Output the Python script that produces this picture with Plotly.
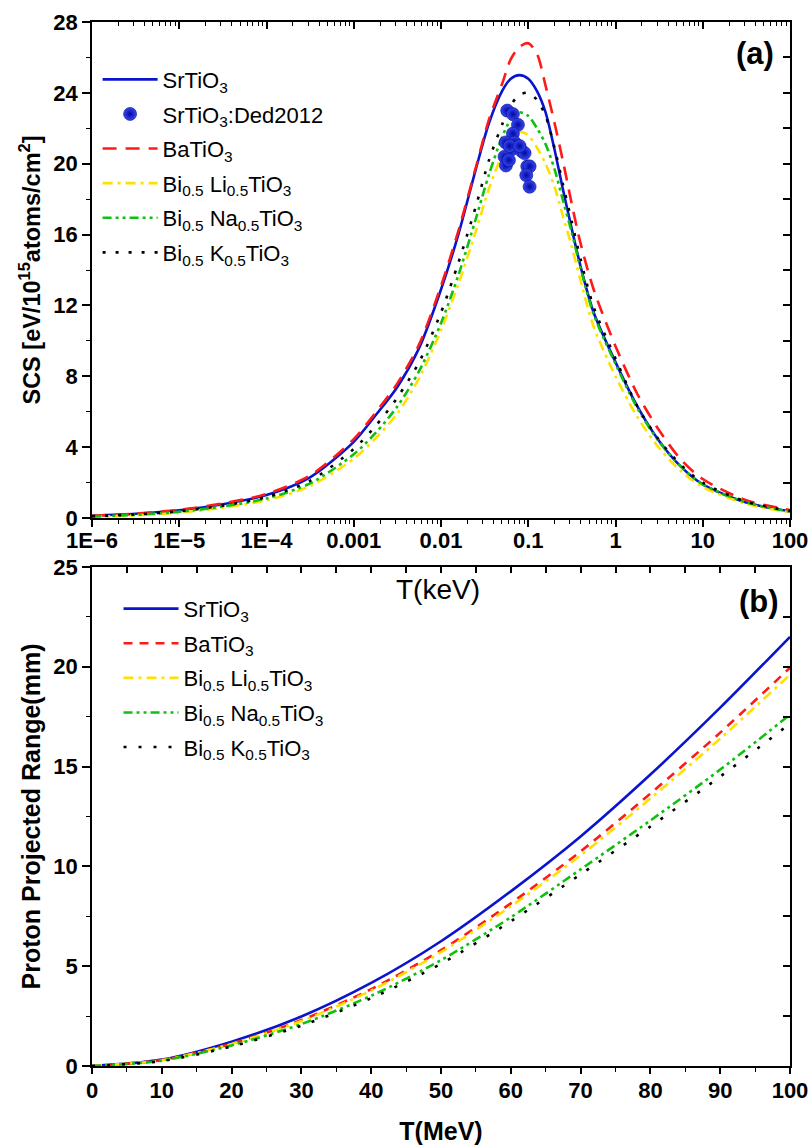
import plotly.graph_objects as go

# ---------------- Panel (a) data : stopping cross section vs T(keV) ----------------
T_keV = [1e-6, 3.16e-6, 1e-5, 3.16e-5, 1e-4, 3.16e-4, 1e-3, 1.78e-3, 3.16e-3, 5.62e-3,
         1e-2, 1.58e-2, 2.51e-2, 3.55e-2, 5.01e-2, 6.31e-2, 7.94e-2, 0.1, 0.126, 0.158,
         0.2, 0.251, 0.316, 0.398, 0.562, 1.0, 1.78, 3.16, 5.62, 10, 31.6, 100]
scs_SrTiO3 = [0.13, 0.24, 0.44, 0.78, 1.30, 2.3, 4.3, 5.8, 7.4, 9.6,
              12.9, 16.0, 19.7, 22.3, 24.1, 24.8, 25.0, 24.8, 24.1, 22.9,
              20.8, 18.5, 16.3, 14.2, 11.6, 8.8, 6.3, 4.35, 2.9, 1.9, 0.87, 0.38]
scs_BaTiO3 = [0.13, 0.25, 0.46, 0.82, 1.36, 2.4, 4.45, 5.95, 7.6, 9.8,
              13.1, 16.2, 19.8, 22.5, 24.5, 25.9, 26.6, 26.8, 26.2, 24.4,
              22.3, 20.1, 17.7, 15.5, 12.9, 9.7, 7.0, 4.95, 3.3, 2.2, 1.0, 0.45]
scs_BLT = [0.07, 0.15, 0.30, 0.58, 1.0, 1.8, 3.35, 4.5, 5.9, 7.9,
           10.6, 13.2, 16.2, 18.6, 20.5, 21.4, 21.8, 21.6, 20.9, 20.0,
           18.7, 17.0, 15.3, 13.4, 10.8, 8.0, 5.7, 3.95, 2.65, 1.75, 0.8, 0.32]
scs_BNT = [0.09, 0.18, 0.35, 0.65, 1.10, 1.95, 3.6, 4.8, 6.3, 8.3,
           11.0, 13.7, 16.9, 19.4, 21.5, 22.5, 22.9, 22.7, 22.0, 21.1,
           19.7, 17.9, 16.1, 14.1, 11.5, 8.7, 6.2, 4.3, 2.9, 1.9, 0.88, 0.36]
scs_BKT = [0.10, 0.20, 0.38, 0.70, 1.18, 2.1, 3.9, 5.2, 6.8, 8.8,
           11.6, 14.4, 17.6, 20.2, 22.2, 23.3, 23.9, 24.0, 23.6, 22.7,
           20.9, 18.8, 16.7, 14.6, 11.9, 9.0, 6.3, 4.4, 3.0, 2.0, 0.92, 0.40]

# experimental points (Ded2012)
exp_T = [0.0574, 0.0667, 0.0762, 0.0667, 0.0550, 0.0696, 0.0638, 0.0847, 0.0908,
         0.0535, 0.0555, 0.0975, 0.1036, 0.0949, 0.1036, 0.0610, 0.0795, 0.0600]
exp_scs = [23.0, 22.8, 22.2, 21.7, 21.2, 21.2, 20.8, 20.7, 20.6,
           20.4, 19.9, 19.85, 19.85, 19.35, 18.7, 21.0, 21.0, 20.2]

a_tickvals = [1e-6, 1e-5, 1e-4, 1e-3, 1e-2, 1e-1, 1, 10, 100]
a_ticktext = ["1E\u22126", "1E\u22125", "1E\u22124", "0.001", "0.01", "0.1", "1", "10", "100"]

# ---------------- Panel (b) data : projected range vs T(MeV) ----------------
E_MeV = [0, 10, 20, 30, 40, 50, 60, 70, 80, 90, 100]
rng_SrTiO3 = [0, 0.32, 1.22, 2.48, 4.16, 6.25, 8.75, 11.5, 14.6, 17.95, 21.5]
rng_BaTiO3 = [0, 0.30, 1.12, 2.30, 3.85, 5.80, 8.15, 10.75, 13.65, 16.7, 19.95]
rng_BLT = [0, 0.29, 1.10, 2.25, 3.78, 5.70, 8.00, 10.55, 13.4, 16.4, 19.6]
rng_BNT = [0, 0.27, 1.03, 2.10, 3.52, 5.30, 7.45, 9.85, 12.3, 14.85, 17.6]
rng_BKT = [0, 0.25, 0.98, 2.02, 3.40, 5.12, 7.25, 9.60, 12.0, 14.5, 17.15]

names = ["SrTiO<sub>3</sub>", "BaTiO<sub>3</sub>", "Bi<sub>0.5</sub> Li<sub>0.5</sub>TiO<sub>3</sub>",
         "Bi<sub>0.5</sub> Na<sub>0.5</sub>TiO<sub>3</sub>", "Bi<sub>0.5</sub> K<sub>0.5</sub>TiO<sub>3</sub>"]
exp_name = "SrTiO<sub>3</sub>:Ded2012"

FONT = "Liberation Sans, Arial, sans-serif"
BLUE = "#0A14CC"
RED = "#FF1A1A"
YELLOW = "#FFE000"
GREEN = "#10C010"
BLACK = "#000000"
colors = [BLUE, RED, YELLOW, GREEN, BLACK]
dash_a = ["solid", "14px,9px", "10px,5px,3px,5px", "9px,4px,3px,4px,3px,4px", "3px,10px"]
dash_b = ["solid", "9px,7px", "10px,5px,3px,5px", "9px,4px,3px,4px,3px,4px", "3px,12px"]

fig = go.Figure()

series_a = [scs_SrTiO3, scs_BaTiO3, scs_BLT, scs_BNT, scs_BKT]
ranks_a = [1, 3, 4, 5, 6]
for i, ys in enumerate(series_a):
    fig.add_trace(go.Scatter(
        x=T_keV, y=ys, mode="lines", name=names[i],
        line=dict(color=colors[i], width=2.6, dash=dash_a[i], shape="spline", smoothing=0.8),
        xaxis="x", yaxis="y", legend="legend", legendrank=ranks_a[i], legendgroup=f"a{i}"))

fig.add_trace(go.Scatter(
    x=exp_T, y=exp_scs, mode="markers", name=exp_name,
    marker=dict(size=13, color="#3848F0", gradient=dict(type="radial", color="#0008A0"),
                line=dict(width=0.6, color="#000890")),
    xaxis="x", yaxis="y", legend="legend", legendrank=2, legendgroup="aexp"))

series_b = [rng_SrTiO3, rng_BaTiO3, rng_BLT, rng_BNT, rng_BKT]
for i, ys in enumerate(series_b):
    fig.add_trace(go.Scatter(
        x=E_MeV, y=ys, mode="lines", name=names[i],
        line=dict(color=colors[i], width=2.6, dash=dash_b[i], shape="spline", smoothing=0.8),
        xaxis="x2", yaxis="y2", legend="legend2", legendrank=i + 1, legendgroup=f"b{i}"))

# dummy traces to activate mirror axes (top/right with inward ticks)
fig.add_trace(go.Scatter(x=[None], y=[None], xaxis="x3", yaxis="y3", showlegend=False, hoverinfo="skip"))
fig.add_trace(go.Scatter(x=[None], y=[None], xaxis="x4", yaxis="y4", showlegend=False, hoverinfo="skip"))

tickfont = dict(family=FONT, size=22, color="black", weight="bold")
common = dict(showgrid=False, zeroline=False, showline=True, linecolor="black", linewidth=1.6,
              tickcolor="black", tickwidth=1.5, automargin=False)

minor_log = [k * 10.0 ** e for e in range(-6, 2) for k in range(2, 10)]

dom_a = [0.5249, 1.0]
dom_b = [0.0, 0.478]

fig.update_layout(
    width=811, height=1148,
    margin=dict(l=92, r=21, t=22, b=82, autoexpand=False),
    plot_bgcolor="white", paper_bgcolor="white",
    font=dict(family=FONT, color="black"),
    xaxis=dict(**common, domain=[0, 1], anchor="y", type="log", range=[-6, 2],
               tickmode="array", tickvals=a_tickvals, ticktext=a_ticktext,
               ticks="outside", ticklen=7, tickfont=tickfont, ticklabelstandoff=-5,
               minor=dict(tickmode="array", tickvals=minor_log, ticks="outside", ticklen=4,
                          tickcolor="black", tickwidth=1.2)),
    yaxis=dict(**common, domain=dom_a, anchor="x", range=[0, 28], dtick=4, tick0=0,
               ticks="outside", ticklen=8, tickfont=tickfont,
               minor=dict(dtick=2, ticks="outside", ticklen=4, tickcolor="black", tickwidth=1.2),
               title=dict(text="SCS [eV/10<sup>15</sup>atoms/cm<sup>2</sup>]",
                          font=dict(family=FONT, size=23.5, color="black", weight="bold"), standoff=6)),
    xaxis3=dict(**common, overlaying="x", side="top", anchor="y", type="log", range=[-6, 2],
                tickmode="array", tickvals=a_tickvals, ticks="inside", ticklen=7, showticklabels=False,
                minor=dict(tickmode="array", tickvals=minor_log, ticks="inside", ticklen=4,
                           tickcolor="black", tickwidth=1.2)),
    yaxis3=dict(**common, overlaying="y", side="right", anchor="x", range=[0, 28], dtick=2, tick0=0,
                ticks="inside", ticklen=7, showticklabels=False),
    xaxis2=dict(**common, domain=[0, 1], anchor="y2", range=[0, 100], dtick=10, tick0=0,
                ticks="outside", ticklen=6, tickfont=tickfont, ticklabelstandoff=-2,
                minor=dict(dtick=5, ticks="outside", ticklen=4, tickcolor="black", tickwidth=1.2),
                title=dict(text="T(MeV)", font=dict(family=FONT, size=25, color="black", weight="bold"),
                           standoff=20)),
    yaxis2=dict(**common, domain=dom_b, anchor="x2", range=[0, 25], dtick=5, tick0=0,
                ticks="outside", ticklen=8, tickfont=tickfont,
                minor=dict(dtick=2.5, ticks="outside", ticklen=4, tickcolor="black", tickwidth=1.2),
                title=dict(text="Proton Projected Range(mm)",
                           font=dict(family=FONT, size=25, color="black", weight="bold"), standoff=6)),
    xaxis4=dict(**common, overlaying="x2", side="top", anchor="y2", range=[0, 100], dtick=5, tick0=0,
                ticks="inside", ticklen=6, showticklabels=False),
    yaxis4=dict(**common, overlaying="y2", side="right", anchor="x2", range=[0, 25], dtick=2.5, tick0=0,
                ticks="inside", ticklen=7, showticklabels=False),
    legend=dict(x=0.008, y=0.965, xanchor="left", yanchor="top", bgcolor="rgba(0,0,0,0)",
                font=dict(family=FONT, size=22, color="black"), itemwidth=55, tracegroupgap=3),
    legend2=dict(x=0.038, y=0.458, xanchor="left", yanchor="top", bgcolor="rgba(0,0,0,0)",
                 font=dict(family=FONT, size=22, color="black"), itemwidth=55, tracegroupgap=3),
    showlegend=True,
    annotations=[
        dict(text="(a)", xref="paper", yref="paper", x=0.95, y=0.970, xanchor="center", yanchor="middle",
             showarrow=False, font=dict(family=FONT, size=31, color="black", weight="bold")),
        dict(text="(b)", xref="paper", yref="paper", x=0.956, y=0.4454, xanchor="center", yanchor="middle",
             showarrow=False, font=dict(family=FONT, size=31, color="black", weight="bold")),
        dict(text="T(keV)", xref="paper", yref="paper", x=0.4957, y=0.456, xanchor="center", yanchor="middle",
             showarrow=False, font=dict(family=FONT, size=28, color="black")),
    ],
)

fig.write_html("out.html")
